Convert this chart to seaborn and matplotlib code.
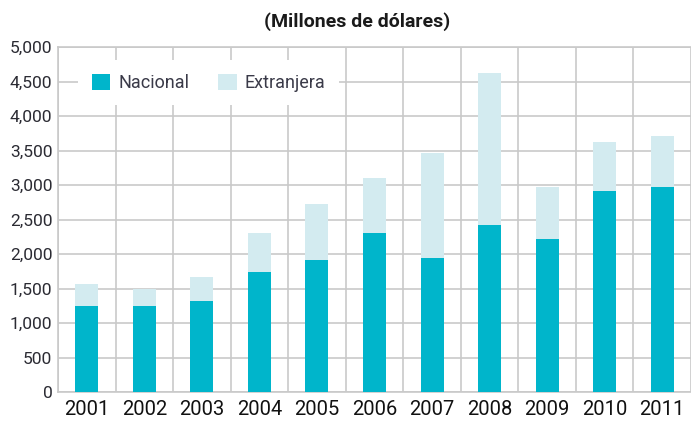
import pandas as pd
import numpy as np
import seaborn as sns
import matplotlib.pyplot as plt
from matplotlib.patches import Patch
from matplotlib.ticker import FuncFormatter

# Data (millones de dólares)
years = ['2001', '2002', '2003', '2004', '2005', '2006',
         '2007', '2008', '2009', '2010', '2011']
nacional = [1250, 1250, 1320, 1740, 1910, 2310, 1940, 2420, 2220, 2920, 2970]
extranjera = [310, 250, 350, 570, 820, 800, 1520, 2210, 750, 700, 750]

teal = '#00b5cb'
light = '#d3ebf0'
grid_c = '#c9c9c9'
text_c = '#2b2b33'

sns.set_style("white")
plt.rcParams['font.family'] = ['Roboto', 'DejaVu Sans']

df = pd.DataFrame({'year': years, 'nacional': nacional, 'extranjera': extranjera})
df['total'] = df['nacional'] + df['extranjera']

fig = plt.figure(figsize=(6.91, 4.24), dpi=100)
ax = fig.add_axes([0.0839, 0.0755, 0.9161, 0.8129])

sns.barplot(data=df, x='year', y='total', color=light, width=0.4,
            saturation=1, linewidth=0, ax=ax, zorder=3)
sns.barplot(data=df, x='year', y='nacional', color=teal, width=0.4,
            saturation=1, linewidth=0, ax=ax, zorder=4)

ax.set_ylim(0, 5000)
ax.set_xlim(-0.5, 10.38)
ax.set_yticks(np.arange(0, 5001, 500))
ax.yaxis.set_major_formatter(FuncFormatter(lambda v, p: f'{int(v):,}'))
ax.set_xticks(np.arange(-0.5, 11, 1), minor=True)

ax.grid(axis='y', which='major', color=grid_c, lw=1.2, zorder=0)
ax.grid(axis='x', which='minor', color=grid_c, lw=1.2, zorder=0)
ax.set_axisbelow(True)
for s in ['left', 'bottom', 'top']:
    ax.spines[s].set_color(grid_c)
    ax.spines[s].set_linewidth(1.2)
ax.spines['right'].set_visible(False)

ax.tick_params(axis='both', which='both', length=0)
ax.tick_params(axis='y', labelsize=12.5, labelcolor=text_c, pad=4)
ax.tick_params(axis='x', labelsize=14.5, labelcolor='#111111', pad=6)
ax.set_xlabel('')
ax.set_ylabel('')

handles = [Patch(facecolor=teal, edgecolor='none', label='Nacional'),
           Patch(facecolor=light, edgecolor='none', label='Extranjera')]
leg = ax.legend(handles=handles, loc='upper left', bbox_to_anchor=(0.0316, 0.963),
                borderaxespad=0, ncol=2, frameon=True, fancybox=False,
                fontsize=13, handlelength=1.05, handleheight=1.0,
                handletextpad=0.45, columnspacing=1.55, borderpad=0.75,
                labelcolor='#3a3a48')
leg.get_frame().set_facecolor('white')
leg.get_frame().set_edgecolor('none')
leg.get_frame().set_alpha(1)
leg.set_zorder(5)

fig.text(0.517, 0.948, '(Millones de dólares)', ha='center', va='center',
         fontsize=14, fontweight='bold', color='#1a1a1a')

plt.savefig('out.png', dpi=100)
